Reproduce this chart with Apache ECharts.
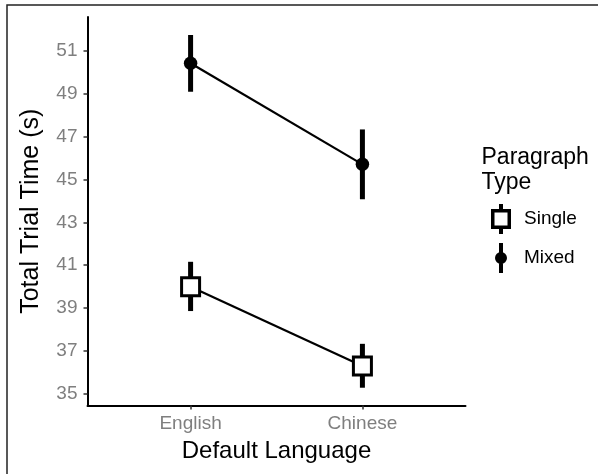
<!DOCTYPE html>
<html>
<head>
<meta charset="utf-8">
<script src="https://cdn.jsdelivr.net/npm/echarts@6/dist/echarts.min.js"></script>
<style>
html,body{margin:0;padding:0;background:#fff;}
#c{width:598px;height:474px;}
</style>
</head>
<body>
<div id="c"></div>
<script>
// ---- data ----
var categories = ['English', 'Chinese'];
var yTicks = [35, 37, 39, 41, 43, 45, 47, 49, 51];
var singleMean = [39.99, 36.29];
var singleLow  = [38.86, 35.28];
var singleHigh = [41.16, 37.33];
var mixedMean  = [50.43, 45.71];
var mixedLow   = [49.10, 44.08];
var mixedHigh  = [51.75, 47.34];

var FONT = '"Liberation Sans", Arial, sans-serif';

function pts(vals) { return vals.map(function (v, i) { return [i + 1, v]; }); }
function bars(lo, hi) { return lo.map(function (v, i) { return [i + 1, v, hi[i]]; }); }

function renderBar(params, api) {
  var p1 = api.coord([api.value(0), api.value(1)]);
  var p2 = api.coord([api.value(0), api.value(2)]);
  return {
    type: 'line',
    shape: { x1: p1[0], y1: p1[1], x2: p2[0], y2: p2[1] },
    style: { stroke: '#000', lineWidth: 5 }
  };
}

var singleIcon = 'path://M7.5 0H11.5V5H19.5V25H11.5V30H7.5V25H-0.5V5H7.5Z M3 8.5V21.5H16V8.5Z';
var mixedIcon = 'path://M7.5 0H11.5V30H7.5Z M15.5 15A6 6 0 1 1 3.5 15A6 6 0 1 1 15.5 15Z';

var chart = echarts.init(document.getElementById('c'), null, { renderer: 'canvas' });
chart.setOption({
  animation: false,
  backgroundColor: '#fff',
  textStyle: { fontFamily: FONT },
  title: {
    text: 'Paragraph\nType',
    left: 481.5, top: 145.5, padding: 0,
    textStyle: { fontFamily: FONT, fontSize: 23, fontWeight: 'normal', color: '#000', lineHeight: 25 }
  },
  legend: {
    orient: 'vertical',
    left: 491, top: 204, padding: 0,
    itemWidth: 20, itemHeight: 30, itemGap: 9,
    textStyle: { fontFamily: FONT, fontSize: 19, color: '#000', padding: [0, 0, 0, 8] },
    data: [
      { name: 'Single', icon: singleIcon, itemStyle: { color: '#000', borderWidth: 0 } },
      { name: 'Mixed', icon: mixedIcon, itemStyle: { color: '#000', borderWidth: 0 } }
    ]
  },
  graphic: [{
    type: 'rect', silent: true, z: 100,
    shape: { x: 7, y: 5, width: 700, height: 600 },
    style: { fill: 'none', stroke: '#222', lineWidth: 1.5 }
  }],
  grid: { left: 87.5, right: 132.5, top: 17, bottom: 68.5, containLabel: false },
  xAxis: {
    type: 'value', min: 0.4, max: 2.6,
    name: 'Default Language', nameLocation: 'middle', nameGap: 34,
    nameTextStyle: { fontFamily: FONT, fontSize: 24, color: '#000' },
    axisLine: { show: true, lineStyle: { color: '#000', width: 2 } },
    axisTick: { show: true, length: 4, customValues: [1, 2], lineStyle: { color: '#333', width: 1.5 } },
    axisLabel: {
      customValues: [1, 2], margin: 9, fontFamily: FONT, fontSize: 19, color: '#7f7f7f',
      formatter: function (v) { return categories[Math.round(v) - 1] || ''; }
    },
    splitLine: { show: false }
  },
  yAxis: {
    type: 'value', min: 34.45, max: 52.59,
    name: 'Total Trial Time (s)', nameLocation: 'middle', nameGap: 44,
    nameTextStyle: { fontFamily: FONT, fontSize: 25, color: '#000' },
    axisLine: { show: true, lineStyle: { color: '#000', width: 2 } },
    axisTick: { show: true, length: 4, customValues: yTicks, lineStyle: { color: '#333', width: 1.5 } },
    axisLabel: { customValues: yTicks, margin: 10, fontFamily: FONT, fontSize: 19, color: '#7f7f7f' },
    splitLine: { show: false }
  },
  series: [
    { type: 'custom', name: 'singleErr', z: 1, renderItem: renderBar, data: bars(singleLow, singleHigh), silent: true },
    { type: 'custom', name: 'mixedErr', z: 1, renderItem: renderBar, data: bars(mixedLow, mixedHigh), silent: true },
    {
      type: 'line', name: 'Single', z: 3, data: pts(singleMean),
      symbol: 'rect', symbolSize: 18,
      itemStyle: { color: '#fff', borderColor: '#000', borderWidth: 3 },
      lineStyle: { color: '#000', width: 2.2 }
    },
    {
      type: 'line', name: 'Mixed', z: 3, data: pts(mixedMean),
      symbol: 'circle', symbolSize: 13.5,
      itemStyle: { color: '#000', borderWidth: 0 },
      lineStyle: { color: '#000', width: 2.2 }
    }
  ]
});
</script>
</body>
</html>
